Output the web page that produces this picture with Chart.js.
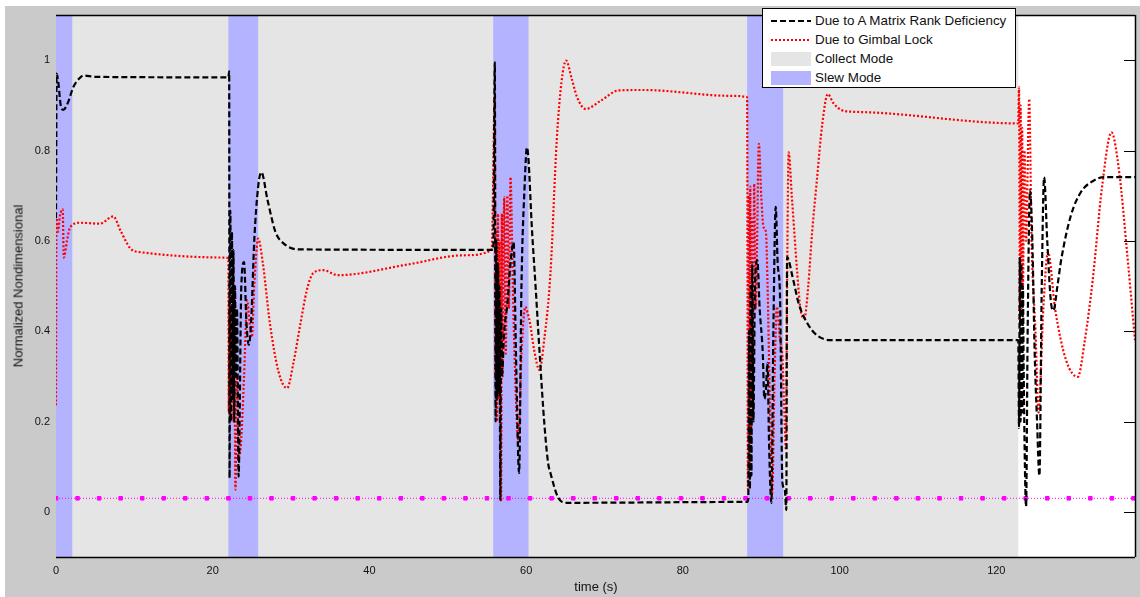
<!DOCTYPE html>
<html>
<head>
<meta charset="utf-8">
<script src="https://cdn.jsdelivr.net/npm/chart.js@4/dist/chart.umd.min.js"></script>
<style>
  html, body { margin:0; padding:0; background:#ffffff; }
  #wrap { position:relative; width:1140px; height:597px; overflow:hidden; }
  canvas { position:absolute; left:0; top:0; }
  .ytitle { position:absolute; left:18px; top:286px; transform:translate(-50%,-50%) rotate(-90deg); font:13px "Liberation Sans", Arial, sans-serif; color:#111; white-space:nowrap; }
  .xtitle { position:absolute; left:596px; top:586px; transform:translate(-50%,-50%); font:13px "Liberation Sans", Arial, sans-serif; color:#111; white-space:nowrap; }
  #legend { position:absolute; left:762px; top:8px; width:252px; height:78px; background:#fff; border:1px solid #000; font:13.4px "Liberation Sans", Arial, sans-serif; color:#111; }
  .row { position:absolute; left:0; height:19px; width:100%; }
  .row svg { position:absolute; left:7px; top:0; }
  .row span { position:absolute; left:52px; top:2px; white-space:nowrap; }
</style>
</head>
<body>
<div id="wrap">
  <canvas id="c" width="1140" height="597"></canvas>
  <div class="ytitle">Normalized Nondimensional</div>
  <div class="xtitle">time (s)</div>
  <div id="legend">
    <div class="row" style="top:2px"><svg width="42" height="19"><line x1="1" y1="10" x2="41" y2="10" stroke="#000" stroke-width="2" stroke-dasharray="6,3"/></svg><span>Due to A Matrix Rank Deficiency</span></div>
    <div class="row" style="top:21px"><svg width="42" height="19"><line x1="1" y1="10" x2="41" y2="10" stroke="#f00" stroke-width="2" stroke-dasharray="2,2"/></svg><span>Due to Gimbal Lock</span></div>
    <div class="row" style="top:40px"><svg width="42" height="19"><rect x="1" y="3" width="40" height="14" fill="#e5e5e5"/></svg><span>Collect Mode</span></div>
    <div class="row" style="top:59px"><svg width="42" height="19"><rect x="1" y="3" width="40" height="14" fill="#b3b3ff"/></svg><span>Slew Mode</span></div>
  </div>
</div>
<script>
// ---- data ----
const xTicks = [0, 20, 40, 60, 80, 100, 120];
const yTicks = [0, 0.2, 0.4, 0.6, 0.8, 1];
const collectStart = 0;
const collectEnd = 122.8;
const slewStart = [0, 22.0, 55.8, 88.2];
const slewEnd   = [2.08, 25.8, 60.3, 92.8];

const rankTime = [0,0.08,0.3,0.6,0.93,1.5,2.2,3.0,3.5,5.0,22.0,
  22.1,22.15,22.25,22.35,22.45,22.55,22.65,22.75,22.85,22.95,23.1,23.3,23.65,24.0,24.3,24.6,24.9,25.3,25.8,26.2,27.0,28.0,29.0,31.0,55.8,
  56.0,56.1,56.2,56.3,56.4,56.5,56.6,56.7,56.8,56.9,57.2,57.6,58.0,58.4,58.7,59.1,59.4,59.8,60.1,60.3,60.7,61.2,61.8,62.3,62.8,63.1,64.1,65.2,88.2,
  88.35,88.45,88.55,88.65,88.75,88.85,89.0,89.2,89.5,89.8,90.2,90.4,90.6,90.8,91.0,91.3,91.55,91.85,92.1,92.4,92.7,93.0,93.2,93.3,94.0,94.8,95.9,97.1,98.9,122.8,
  122.9,123.0,123.1,123.2,123.3,123.4,123.5,123.8,124.0,124.3,124.6,124.9,125.2,125.5,125.8,126.1,126.5,127.0,127.3,127.8,128.3,129.5,130.8,132.1,133.8,137.7];
const rankValue = [0.65,0.97,0.95,0.9,0.89,0.905,0.94,0.96,0.966,0.963,0.962,
  0.975,0.075,0.667,0.2,0.62,0.25,0.58,0.2,0.5,0.3,0.45,0.078,0.5,0.553,0.42,0.37,0.42,0.6,0.72,0.752,0.69,0.62,0.595,0.581,0.58,
  0.995,0.2,0.6,0.25,0.55,0.263,0.5,0.027,0.45,0.3,0.4,0.46,0.55,0.597,0.35,0.086,0.5,0.72,0.807,0.78,0.638,0.5,0.329,0.2,0.108,0.086,0.031,0.02,0.022,
  0.03,0.4,0.05,0.5,0.08,0.55,0.2,0.5,0.557,0.45,0.35,0.25,0.27,0.33,0.15,0.02,0.4,0.675,0.55,0.476,0.065,0.05,0.004,0.564,0.52,0.46,0.417,0.391,0.38,0.38,
  0.186,0.564,0.2,0.55,0.22,0.5,0.3,0.012,0.4,0.712,0.6,0.35,0.2,0.08,0.5,0.741,0.6,0.46,0.446,0.5,0.56,0.655,0.708,0.73,0.741,0.741];

const gimbalTime = [0,0.05,0.25,0.5,0.85,1.0,1.4,1.8,3.1,5.6,7.3,8.3,9.5,10.7,21.6,
  22.0,22.05,22.15,22.25,22.35,22.45,22.55,22.65,22.75,22.9,23.1,23.3,23.6,24.0,24.4,24.7,25.0,25.3,25.8,26.4,27.3,28.4,29.5,30.3,31.2,32.0,32.8,34.1,36.0,45.0,52.0,55.6,
  56.0,56.1,56.2,56.3,56.4,56.5,56.6,56.7,56.8,56.9,57.0,57.2,57.4,57.6,57.8,58.0,58.3,58.6,59.0,59.4,59.9,60.2,60.5,61.0,61.7,62.3,63.1,63.9,64.5,65.1,65.8,66.5,67.6,69.5,71.8,75.0,86.1,88.2,
  88.3,88.4,88.5,88.6,88.7,88.8,88.95,89.1,89.3,89.7,90.0,90.3,90.6,90.8,91.1,91.4,91.7,92.0,92.4,92.7,93.0,93.15,93.3,93.5,93.9,94.6,95.0,95.5,96.0,96.5,97.1,97.8,98.5,99.2,100.5,103.1,122.8,
  122.9,123.0,123.1,123.2,123.3,123.4,123.6,123.8,124.2,124.5,125.0,125.4,126.0,126.6,127.5,128.9,130.4,131.3,132.3,133.5,134.7,135.7,136.7,137.7];
const gimbalValue = [0.236,0.65,0.62,0.655,0.67,0.563,0.6,0.63,0.64,0.638,0.654,0.62,0.583,0.575,0.563,
  0.56,0.22,0.48,0.2,0.45,0.25,0.43,0.2,0.4,0.049,0.3,0.12,0.15,0.3,0.468,0.42,0.387,0.5,0.605,0.55,0.417,0.31,0.274,0.33,0.417,0.49,0.528,0.535,0.524,0.548,0.568,0.58,
  0.918,0.3,0.62,0.2,0.66,0.25,0.6,0.35,0.023,0.66,0.3,0.697,0.35,0.7,0.45,0.741,0.5,0.3,0.159,0.35,0.454,0.44,0.417,0.36,0.314,0.38,0.528,0.822,0.95,0.999,0.96,0.918,0.892,0.91,0.933,0.934,0.921,0.918,
  0.05,0.7,0.1,0.72,0.15,0.65,0.3,0.726,0.45,0.815,0.7,0.63,0.62,0.506,0.25,0.04,0.3,0.454,0.38,0.343,0.196,0.137,0.5,0.796,0.7,0.528,0.45,0.428,0.5,0.62,0.734,0.86,0.925,0.905,0.888,0.885,0.86,
  0.94,0.42,0.9,0.45,0.85,0.5,0.8,0.6,0.914,0.6,0.4,0.22,0.45,0.575,0.45,0.336,0.299,0.38,0.513,0.72,0.84,0.75,0.572,0.38];

const thresholdTime = [0,2.75,5.5,8.25,11,13.75,16.5,19.25,22,24.75,27.5,30.25,33,35.75,38.5,41.25,44,46.75,49.5,52.25,55,57.75,60.5,63.25,66,68.75,71.5,74.25,77,79.75,82.5,85.25,88,90.75,93.5,96.25,99,101.75,104.5,107.25,110,112.75,115.5,118.25,121,123.75,126.5,129.25,132,134.75,137.5];
const thresholdLevel = 0.03;

const xMin = 0, xMax = 137.7, yMin = -0.1, yMax = 1.1;

// ---- build ----
const pairs = (ts, vs) => ts.map((t, i) => ({ x: t, y: vs[i] }));

const bgPlugin = {
  id: 'bg',
  beforeDraw(chart) {
    const ctx = chart.ctx;
    ctx.save();
    ctx.fillStyle = '#cacaca';
    ctx.fillRect(5, 6, chart.width - 5, chart.height - 6);
    ctx.restore();
  },
  beforeDatasetsDraw(chart) {
    const { ctx, chartArea: a, scales: { x, y } } = chart;
    ctx.save();
    ctx.fillStyle = '#ffffff';
    ctx.fillRect(a.left, a.top, a.right - a.left, a.bottom - a.top);
    ctx.fillStyle = '#e5e5e5';
    const c0 = x.getPixelForValue(collectStart), c1 = x.getPixelForValue(collectEnd);
    ctx.fillRect(c0, a.top, c1 - c0, a.bottom - a.top);
    ctx.fillStyle = '#b3b3ff';
    slewStart.forEach((s, i) => {
      const p0 = x.getPixelForValue(s), p1 = x.getPixelForValue(slewEnd[i]);
      ctx.fillRect(p0, a.top, p1 - p0, a.bottom - a.top);
    });
    ctx.strokeStyle = '#000';
    ctx.lineWidth = 1;
    ctx.beginPath();
    yTicks.forEach(v => {
      const py = Math.round(y.getPixelForValue(v)) + 0.5;
      ctx.moveTo(a.right, py); ctx.lineTo(a.right - 11, py);
    });
    ctx.stroke();
    ctx.restore();
  },
  afterDatasetsDraw(chart) {
    const { ctx, chartArea: a } = chart;
    ctx.save();
    ctx.strokeStyle = '#000';
    ctx.lineWidth = 1.5;
    ctx.beginPath();
    ctx.moveTo(a.left, a.top + 0.5); ctx.lineTo(a.right, a.top + 0.5);
    ctx.moveTo(a.left, a.bottom + 0.5); ctx.lineTo(a.right, a.bottom + 0.5);
    ctx.moveTo(a.right + 0.5, a.top); ctx.lineTo(a.right + 0.5, a.bottom);
    ctx.stroke();
    ctx.restore();
  }
};

new Chart(document.getElementById('c'), {
  type: 'scatter',
  data: {
    datasets: [
      { label: 'Due to A Matrix Rank Deficiency', data: pairs(rankTime, rankValue), showLine: true,
        borderColor: '#000000', borderWidth: 2.2, borderDash: [6, 3], pointRadius: 0,
        cubicInterpolationMode: 'monotone' },
      { label: 'Due to Gimbal Lock', data: pairs(gimbalTime, gimbalValue), showLine: true,
        borderColor: '#ff0000', borderWidth: 2.2, borderDash: [2, 2], pointRadius: 0,
        cubicInterpolationMode: 'monotone' },
      { label: 'threshold', data: thresholdTime.map(t => ({ x: t, y: thresholdLevel })), showLine: true,
        borderColor: '#ff00ff', borderWidth: 1, borderDash: [1, 2], pointStyle: 'rect', pointRadius: 2.5,
        pointBackgroundColor: '#ff00ff', pointBorderColor: '#ff00ff', tension: 0 }
    ]
  },
  options: {
    responsive: false,
    animation: false,
    layout: { padding: { left: 0, top: 15, right: 3, bottom: 0 } },
    plugins: { legend: { display: false }, tooltip: { enabled: false } },
    scales: {
      x: {
        type: 'linear', min: xMin, max: xMax,
        afterBuildTicks: s => { s.ticks = xTicks.map(v => ({ value: v })); },
        afterFit: s => { s.height = 40; },
        grid: { display: false, drawTicks: false },
        border: { display: false },
        ticks: { autoSkip: false, maxRotation: 0, padding: 7, color: '#111',
                 font: { family: '"Liberation Sans", Arial, sans-serif', size: 11 },
                 callback: v => String(v) }
      },
      y: {
        type: 'linear', min: yMin, max: yMax,
        afterBuildTicks: s => { s.ticks = yTicks.map(v => ({ value: v })); },
        afterFit: s => { s.width = 56; },
        grid: { display: false, drawTicks: false },
        border: { display: false },
        ticks: { autoSkip: false, padding: 6, color: '#111',
                 font: { family: '"Liberation Sans", Arial, sans-serif', size: 11 },
                 callback: v => String(v) }
      }
    }
  },
  plugins: [bgPlugin]
});
</script>
</body>
</html>
